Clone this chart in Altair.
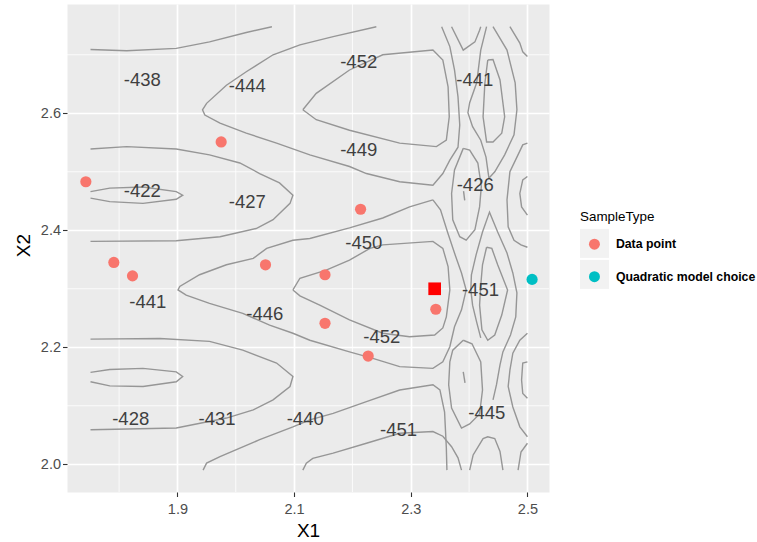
import altair as alt
import pandas as pd

# ---------------------------------------------------------------------------
# Contour paths of the fitted surface over (X1, X2); closed loops repeat
# their first vertex.
# ---------------------------------------------------------------------------
band_top_left = [(1.751, 2.709), (1.813, 2.707), (1.898, 2.711), (1.955, 2.722),
                 (2.018, 2.738), (2.062, 2.748)]
ridge_444 = [(2.241, 2.748), (2.167, 2.731), (2.110, 2.717), (2.064, 2.700), (2.018, 2.671),
             (1.984, 2.648), (1.950, 2.617), (1.943, 2.606), (1.947, 2.597), (1.973, 2.583),
             (2.018, 2.566), (2.070, 2.549), (2.127, 2.529), (2.195, 2.509), (2.224, 2.497),
             (2.281, 2.483), (2.338, 2.477), (2.355, 2.497), (2.367, 2.520), (2.381, 2.542),
             (2.384, 2.580), (2.381, 2.628), (2.375, 2.674), (2.367, 2.714), (2.353, 2.748)]
basin_452_top = [(2.115, 2.606), (2.138, 2.634), (2.195, 2.674), (2.252, 2.700), (2.338, 2.708),
                 (2.355, 2.691), (2.364, 2.645), (2.366, 2.594), (2.361, 2.554), (2.344, 2.543),
                 (2.281, 2.549), (2.195, 2.571), (2.138, 2.589), (2.115, 2.606)]
arc_427 = [(1.751, 2.539), (1.813, 2.543), (1.898, 2.539), (1.955, 2.529), (2.007, 2.515),
           (2.041, 2.497), (2.075, 2.481), (2.098, 2.460), (2.093, 2.446), (2.064, 2.418),
           (2.035, 2.403), (1.973, 2.389), (1.898, 2.382), (1.751, 2.381)]
loop_422 = [(1.751, 2.466), (1.784, 2.472), (1.841, 2.474), (1.898, 2.466), (1.909, 2.460),
            (1.898, 2.453), (1.841, 2.446), (1.784, 2.449), (1.751, 2.455)]
loop_446 = [(2.338, 2.452), (2.298, 2.440), (2.252, 2.421), (2.195, 2.404), (2.127, 2.386),
            (2.098, 2.383), (2.053, 2.369), (2.030, 2.352), (1.984, 2.341), (1.938, 2.324),
            (1.904, 2.304), (1.901, 2.298), (1.915, 2.289), (1.955, 2.275), (2.012, 2.258),
            (2.058, 2.238), (2.098, 2.224), (2.127, 2.212), (2.195, 2.192), (2.235, 2.181),
            (2.281, 2.167), (2.338, 2.164), (2.355, 2.175), (2.367, 2.201), (2.375, 2.235),
            (2.387, 2.264), (2.395, 2.298), (2.387, 2.327), (2.375, 2.361), (2.363, 2.397),
            (2.351, 2.435), (2.338, 2.452)]
basin_452_low = [(2.098, 2.298), (2.110, 2.318), (2.155, 2.332), (2.195, 2.349), (2.230, 2.369),
                 (2.252, 2.375), (2.338, 2.381), (2.355, 2.369), (2.364, 2.338), (2.367, 2.298),
                 (2.361, 2.252), (2.355, 2.233), (2.341, 2.221), (2.298, 2.218), (2.252, 2.224),
                 (2.195, 2.247), (2.144, 2.272), (2.110, 2.288), (2.098, 2.298)]
arc_428 = [(1.751, 2.214), (1.870, 2.215), (1.955, 2.210), (2.012, 2.195), (2.070, 2.173),
           (2.098, 2.150), (2.093, 2.133), (2.064, 2.110), (2.030, 2.093), (1.984, 2.079),
           (1.898, 2.062), (1.751, 2.059)]
loop_low_left = [(1.751, 2.157), (1.784, 2.162), (1.841, 2.164), (1.898, 2.158), (1.909, 2.150),
                 (1.898, 2.141), (1.841, 2.133), (1.784, 2.134), (1.751, 2.141)]
arch_440 = [(1.944, 1.990), (1.950, 2.002), (1.973, 2.013), (2.041, 2.042), (2.098, 2.064),
            (2.127, 2.076), (2.167, 2.087), (2.224, 2.107), (2.281, 2.127), (2.338, 2.136),
            (2.350, 2.127), (2.358, 2.089), (2.361, 2.028), (2.362, 1.990)]
arch_451 = [(2.115, 1.990), (2.121, 2.002), (2.132, 2.010), (2.167, 2.019), (2.224, 2.036),
            (2.281, 2.053), (2.338, 2.056), (2.355, 2.048), (2.370, 2.030), (2.381, 2.011),
            (2.387, 1.990)]
notch_top = [(2.370, 2.748), (2.390, 2.708), (2.410, 2.722), (2.418, 2.742), (2.420, 2.748)]
loop_441 = [(2.430, 2.748), (2.420, 2.708), (2.413, 2.652), (2.401, 2.618), (2.398, 2.601),
            (2.406, 2.577), (2.420, 2.554), (2.429, 2.525), (2.434, 2.489), (2.444, 2.500),
            (2.461, 2.529), (2.477, 2.563), (2.482, 2.606), (2.479, 2.652), (2.465, 2.708),
            (2.441, 2.748)]
core_441 = [(2.432, 2.691), (2.441, 2.692), (2.453, 2.657), (2.461, 2.594), (2.456, 2.566),
            (2.441, 2.551), (2.430, 2.551), (2.424, 2.594), (2.427, 2.651), (2.432, 2.691)]
corner_top_right = [(2.470, 2.748), (2.487, 2.720), (2.492, 2.705), (2.500, 2.697)]
loop_426 = [(2.390, 2.540), (2.401, 2.537), (2.415, 2.515), (2.421, 2.475), (2.418, 2.440),
            (2.410, 2.401), (2.395, 2.383), (2.384, 2.389), (2.372, 2.418), (2.370, 2.463),
            (2.375, 2.503), (2.390, 2.540)]
dot_426 = [(2.3905, 2.467), (2.3925, 2.451)]
spindle_451 = [(2.430, 2.371), (2.439, 2.369), (2.449, 2.341), (2.466, 2.298), (2.456, 2.255),
               (2.444, 2.221), (2.432, 2.212), (2.422, 2.230), (2.418, 2.272), (2.420, 2.306),
               (2.423, 2.341), (2.430, 2.371)]
wrap_451 = [(2.420, 2.216), (2.413, 2.243), (2.406, 2.272), (2.403, 2.298), (2.404, 2.324),
            (2.412, 2.358), (2.423, 2.397), (2.435, 2.431), (2.449, 2.397), (2.465, 2.361),
            (2.475, 2.327), (2.482, 2.293), (2.480, 2.252), (2.471, 2.221), (2.458, 2.192),
            (2.453, 2.170), (2.447, 2.136), (2.441, 2.110)]
loop_445 = [(2.390, 2.212), (2.372, 2.195), (2.367, 2.175), (2.365, 2.136), (2.370, 2.096),
            (2.387, 2.062), (2.401, 2.069), (2.418, 2.086), (2.423, 2.127), (2.420, 2.175),
            (2.405, 2.206), (2.390, 2.212)]
dot_445 = [(2.390, 2.158), (2.393, 2.139)]
edge_band_upper = [(2.500, 2.549), (2.492, 2.546), (2.482, 2.525), (2.470, 2.500), (2.465, 2.452),
                   (2.467, 2.406), (2.477, 2.383), (2.489, 2.375), (2.500, 2.371)]
edge_arc_upper = [(2.500, 2.492), (2.492, 2.486), (2.487, 2.463), (2.490, 2.440), (2.500, 2.426)]
edge_band_lower = [(2.500, 2.224), (2.487, 2.212), (2.475, 2.190), (2.470, 2.161), (2.467, 2.133),
                   (2.475, 2.098), (2.487, 2.064), (2.500, 2.047)]
edge_arc_lower = [(2.500, 2.175), (2.492, 2.173), (2.490, 2.144), (2.492, 2.121), (2.500, 2.113)]
arch_bottom = [(2.401, 1.990), (2.407, 2.016), (2.424, 2.044), (2.432, 2.047), (2.444, 2.044),
               (2.453, 2.022), (2.458, 1.990)]
corner_bottom_right = [(2.500, 2.036), (2.489, 2.021), (2.484, 1.990)]

contour_paths = {
    "band_top_left": band_top_left, "ridge_444": ridge_444, "basin_452_top": basin_452_top,
    "arc_427": arc_427, "loop_422": loop_422, "loop_446": loop_446,
    "basin_452_low": basin_452_low, "arc_428": arc_428, "loop_low_left": loop_low_left,
    "arch_440": arch_440, "arch_451": arch_451, "notch_top": notch_top, "loop_441": loop_441,
    "core_441": core_441, "corner_top_right": corner_top_right, "loop_426": loop_426,
    "dot_426": dot_426, "spindle_451": spindle_451, "wrap_451": wrap_451,
    "loop_445": loop_445, "dot_445": dot_445, "edge_band_upper": edge_band_upper,
    "edge_arc_upper": edge_arc_upper, "edge_band_lower": edge_band_lower,
    "edge_arc_lower": edge_arc_lower, "arch_bottom": arch_bottom,
    "corner_bottom_right": corner_bottom_right,
}

# Contour level labels
label_text = ["-438", "-444", "-452", "-441", "-449", "-422", "-427", "-426", "-450",
              "-441", "-446", "-451", "-452", "-428", "-431", "-440", "-451", "-445"]
label_x1 = [1.8397, 2.0197, 2.2108, 2.4097, 2.2108, 1.8397, 2.0197, 2.4105, 2.2194,
            1.8491, 2.0497, 2.4195, 2.2503, 1.8199, 1.9679, 2.1191, 2.2790, 2.4303]
label_x2 = [2.657, 2.6467, 2.6868, 2.657, 2.5373, 2.4663, 2.4475, 2.4774, 2.3778,
            2.278, 2.2574, 2.298, 2.2176, 2.0769, 2.0769, 2.0769, 2.0578, 2.0872]

# Sampled design points and the quadratic model's suggested point
sample_x1 = [1.743, 1.791, 1.823, 1.975, 2.051, 2.153, 2.153, 2.214, 2.227, 2.343, 2.508]
sample_x2 = [2.483, 2.345, 2.322, 2.551, 2.341, 2.324, 2.241, 2.436, 2.185, 2.265, 2.316]
sample_type = ["Data point"] * 10 + ["Quadratic model choice"]
sample_levels = ["Data point", "Quadratic model choice"]
sample_colors = ["#F8766D", "#00BFC4"]

# Current optimum marker
optimum_x1 = [2.341]
optimum_x2 = [2.300]

# Axes and grid
x_domain = [1.7107, 2.537]
y_domain = [1.9526, 2.7868]
x_major = [1.9, 2.1, 2.3, 2.5]
y_major = [2.0, 2.2, 2.4, 2.6]
x_minor = [1.8, 2.0, 2.2, 2.4]
y_minor = [2.1, 2.3, 2.5, 2.7]

FONT = "Liberation Sans"

rows = []
for name, pts in contour_paths.items():
    for step, (px1, px2) in enumerate(pts):
        rows.append({"path": name, "step": step, "X1": px1, "X2": px2})
contours = pd.DataFrame(rows)
labels = pd.DataFrame({"X1": label_x1, "X2": label_x2, "level": label_text})
samples = pd.DataFrame({"X1": sample_x1, "X2": sample_x2,
                        "SampleType": sample_type, "Key": sample_type})
optimum = pd.DataFrame({"X1": optimum_x1, "X2": optimum_x2})

x_scale = alt.Scale(domain=x_domain, nice=False, zero=False)
y_scale = alt.Scale(domain=y_domain, nice=False, zero=False)

x_axis = alt.Axis(values=x_major, format=".1f", grid=True, gridColor="white", gridWidth=1.7,
                  domain=False, tickColor="#333333", tickWidth=1.1, tickSize=4.5,
                  labelColor="#4D4D4D", labelFont=FONT, labelFontSize=14.5, labelPadding=6,
                  title="X1", titleFont=FONT, titleFontSize=19, titleFontWeight="normal",
                  titleColor="black", titleBaseline="alphabetic", titleY=44)
y_axis = alt.Axis(values=y_major, format=".1f", grid=True, gridColor="white", gridWidth=1.7,
                  domain=False, tickColor="#333333", tickWidth=1.1, tickSize=4.5,
                  labelColor="#4D4D4D", labelFont=FONT, labelFontSize=14.5, labelPadding=2,
                  title="X2", titleFont=FONT, titleFontSize=19, titleFontWeight="normal",
                  titleColor="black", titleAngle=270, titleBaseline="alphabetic",
                  titleX=-38, titleY=241, titleAlign="center")


def xy(axes=False):
    if axes:
        return dict(x=alt.X("X1:Q", scale=x_scale, axis=x_axis),
                    y=alt.Y("X2:Q", scale=y_scale, axis=y_axis))
    return dict(x=alt.X("X1:Q", scale=x_scale), y=alt.Y("X2:Q", scale=y_scale))


minor_v = alt.Chart(pd.DataFrame({"X1": x_minor})).mark_rule(
    color="white", strokeWidth=0.8).encode(x=alt.X("X1:Q", scale=x_scale))
minor_h = alt.Chart(pd.DataFrame({"X2": y_minor})).mark_rule(
    color="white", strokeWidth=0.8).encode(y=alt.Y("X2:Q", scale=y_scale))

lines = alt.Chart(contours).mark_line(color="#969696", strokeWidth=1.4).encode(
    detail="path:N", order=alt.Order("step:Q"), **xy(axes=True))

level_text = alt.Chart(labels).mark_text(
    font=FONT, fontSize=18.5, color="#3F3F3F", align="center", baseline="middle"
).encode(text="level:N", **xy())

# Grey key backgrounds behind the legend symbols (the point marks themselves are hidden)
key_boxes = alt.Chart(samples).mark_point(
    filled=True, shape="square", color="#F2F2F2", opacity=0).encode(
    shape=alt.Shape("Key:N", scale=alt.Scale(range=["square", "square"]),
                    legend=alt.Legend(title="SampleType", orient="none", legendX=513,
                                      legendY=205.5, symbolSize=841, symbolType="square",
                                      symbolFillColor="#F2F2F2", symbolStrokeColor="#F2F2F2",
                                      symbolStrokeWidth=0, symbolOpacity=1, labelExpr="''",
                                      rowPadding=2, titleFont=FONT, titleFontSize=13.4,
                                      titleFontWeight="normal", titleColor="black",
                                      titlePadding=6, zindex=0)),
    **xy())

points = alt.Chart(samples).mark_circle(size=125, opacity=1).encode(
    color=alt.Color("SampleType:N",
                    scale=alt.Scale(domain=sample_levels, range=sample_colors),
                    legend=alt.Legend(title=None, orient="none", legendX=521.3, legendY=234,
                                      symbolSize=120, symbolType="circle",
                                      symbolStrokeWidth=0, labelFont=FONT,
                                      labelFontSize=12.3, labelFontWeight="bold",
                                      labelColor="black", labelOffset=15.3, rowPadding=19.5,
                                      zindex=1)),
    **xy())

best = alt.Chart(optimum).mark_square(size=160, color="#FF0000", opacity=1).encode(**xy())

chart = alt.layer(minor_v, minor_h, lines, level_text, key_boxes, points, best).properties(
    width=482, height=488,
    background="white",
    autosize=alt.AutoSizeParams(type="none"),
    padding={"left": 67, "top": 4, "right": 208, "bottom": 50},
).configure_view(fill="#EBEBEB", stroke="transparent")

chart.save("out.html", embed_options={"renderer": "svg", "actions": False})
